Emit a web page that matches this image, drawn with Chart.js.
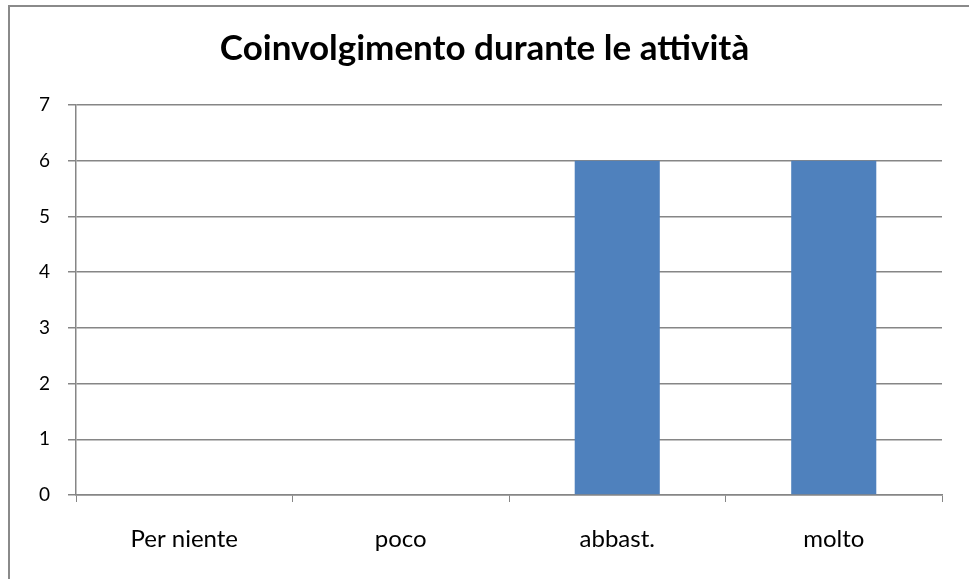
<!DOCTYPE html>
<html>
<head>
<meta charset="utf-8">
<script src="https://cdn.jsdelivr.net/npm/chart.js@4"></script>
<style>
  html, body { margin: 0; padding: 0; background: #fff; width: 969px; height: 579px; overflow: hidden; }
  #wrap { position: absolute; left: 0; top: 0; width: 969px; height: 579px; }
  #frame { position: absolute; left: 8px; top: 5px; width: 1000px; height: 620px; border: 2px solid #8a8a8a; box-sizing: border-box; pointer-events: none; }
  canvas { position: absolute; left: 0; top: 0; }
</style>
</head>
<body>
<div id="wrap">
  <canvas id="c" width="969" height="579"></canvas>
  <div id="frame"></div>
</div>
<script>
const categories = ["Per niente", "poco", "abbast.", "molto"];
const values = [0, 0, 6, 6];
const yTicks = [0, 1, 2, 3, 4, 5, 6, 7];
const titleText = "Coinvolgimento durante le attività";

const fontFamily = "Lato, 'Open Sans', sans-serif";
const gridColor = "#868686";

new Chart(document.getElementById("c"), {
  type: "bar",
  data: {
    labels: categories,
    datasets: [{
      data: values,
      backgroundColor: "#4F81BD",
      borderWidth: 0,
      barPercentage: 0.393,
      categoryPercentage: 1.0
    }]
  },
  options: {
    responsive: false,
    animation: false,
    layout: { padding: { left: 0, right: 0, top: 0, bottom: 0 } },
    plugins: {
      legend: { display: false },
      tooltip: { enabled: false },
      title: {
        display: true,
        text: titleText,
        color: "#000",
        font: { family: fontFamily, size: 35, weight: "bold" },
        padding: { top: 28, bottom: 35 }
      }
    },
    scales: {
      x: {
        grid: { drawOnChartArea: false, drawTicks: true, tickLength: 7, color: gridColor, offset: true },
        border: { color: gridColor, width: 1.5 },
        ticks: { color: "#000", font: { family: fontFamily, size: 24 }, padding: 23 },
        afterFit: (s) => { s.height = 84; }
      },
      y: {
        min: 0,
        max: 7,
        afterBuildTicks: (s) => { s.ticks = yTicks.map(v => ({ value: v })); },
        grid: { color: gridColor, lineWidth: 1.5, tickLength: 8 },
        border: { color: gridColor, width: 1.5 },
        ticks: { color: "#000", font: { family: fontFamily, size: 19 }, padding: 18 },
        afterFit: (s) => { s.width = 76; }
      },
      yRight: {
        position: "right",
        display: true,
        grid: { display: false, drawTicks: false },
        border: { display: false },
        ticks: { display: false },
        afterFit: (s) => { s.width = 27; }
      }
    }
  }
});
</script>
</body>
</html>
